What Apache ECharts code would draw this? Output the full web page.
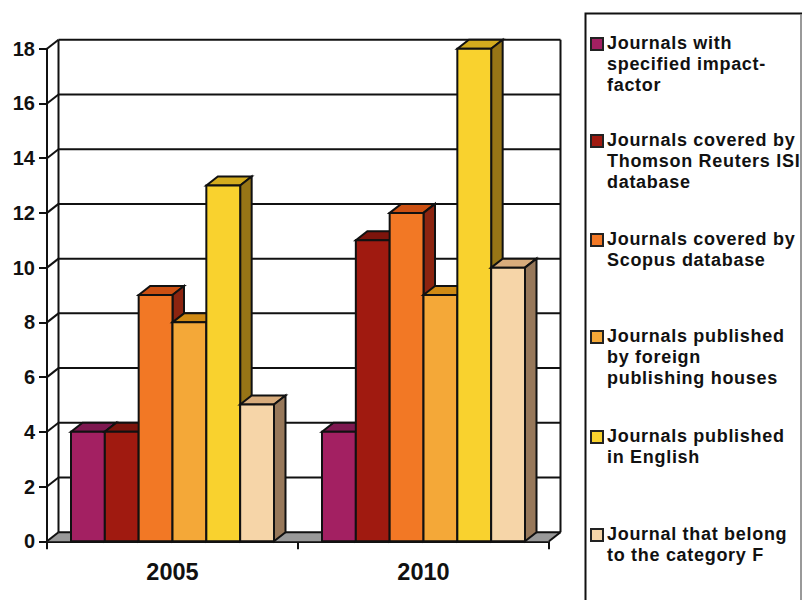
<!DOCTYPE html>
<html>
<head>
<meta charset="utf-8">
<style>
  html, body { margin: 0; padding: 0; background: #fff; }
  #chart { width: 802px; height: 600px; }
  /* Legend entries are tracked out; they are the only 18px text in the chart */
  #chart text[style*="18px"] { letter-spacing: 0.7px; }
</style>
<script src="https://cdn.jsdelivr.net/npm/echarts@6/dist/echarts.min.js"></script>
</head>
<body>
<div id="chart"></div>
<script>
// Journal counts per year, one list per journal group
const years = ['2005', '2010'];
const yTicks = [0, 2, 4, 6, 8, 10, 12, 14, 16, 18];
const impactFactor = [4, 4];
const thomsonReuters = [4, 11];
const scopus = [9, 12];
const foreignHouses = [8, 9];
const inEnglish = [13, 18];
const categoryF = [5, 10];

const groupNames = [
  'Journals with\nspecified impact-\nfactor',
  'Journals covered by\nThomson Reuters ISI\ndatabase',
  'Journals covered by\nScopus database',
  'Journals published\nby foreign\npublishing houses',
  'Journals published\nin English',
  'Journal that belong\nto the category F'
];
const groupValues = [impactFactor, thomsonReuters, scopus, foreignHouses, inEnglish, categoryF];
const frontColors = ['#A32062', '#A01A10', '#F27825', '#F4A838', '#F9D22E', '#F6D5A8'];
const topColors = ['#7E1850', '#7C140C', '#CC5012', '#D08A14', '#D4AC1E', '#D8AC7C'];
const sideColors = ['#66103C', '#660F08', '#8C2410', '#946410', '#977516', '#97785A'];
const legendTops = [31, 128, 227, 324, 424, 522];

// Oblique projection of the chart's depth, in pixels
const DEPTH_X = 11.5;
const DEPTH_Y = 9;
const INK = '#111';
const INK_WIDTH = 2;
const GROUP_PAD = 24;

const poly = (points, fill) => ({
  type: 'polygon',
  shape: { points },
  style: { fill, stroke: INK, lineWidth: INK_WIDTH, lineJoin: 'miter' }
});
const seg = (x1, y1, x2, y2) => ({
  type: 'line',
  shape: { x1, y1, x2, y2 },
  style: { stroke: INK, lineWidth: INK_WIDTH, fill: null }
});

// Floor, back wall grid lines and the diagonals joining them to the value axis
function renderWalls(params, api) {
  const value = api.value(0);
  const y = api.coord([0, value])[1];
  const cs = params.coordSys;
  const x0 = cs.x;
  const x1 = cs.x + cs.width;
  const children = [
    seg(x0, y, x0 + DEPTH_X, y - DEPTH_Y),
    seg(x0 + DEPTH_X, y - DEPTH_Y, x1 + DEPTH_X, y - DEPTH_Y)
  ];
  if (value === 0) {
    const topY = api.coord([0, yTicks[yTicks.length - 1]])[1] - DEPTH_Y;
    children.unshift(
      {
        type: 'polygon',
        shape: { points: [[x0, y], [x0 + DEPTH_X, y - DEPTH_Y], [x1 + DEPTH_X, y - DEPTH_Y], [x1, y]] },
        style: { fill: '#999999', stroke: null }
      },
      seg(x0 + DEPTH_X, y - DEPTH_Y, x0 + DEPTH_X, topY),
      seg(x1 + DEPTH_X, y - DEPTH_Y, x1 + DEPTH_X, topY),
      seg(x1, y, x1 + DEPTH_X, y - DEPTH_Y)
    );
  }
  return { type: 'group', children };
}

// One box: top and side faces first, then the front face
function makeBoxRenderer(seriesPos) {
  return function (params, api) {
    const cat = api.value(0);
    const base = api.coord([cat, 0]);
    const head = api.coord([cat, api.value(1)]);
    const slot = api.size([1, 0])[0];
    const width = (slot - 2 * GROUP_PAD) / groupNames.length;
    const left = base[0] - slot / 2 + GROUP_PAD + seriesPos * width;
    const right = left + width;
    const yTop = head[1];
    const yBase = base[1];
    return {
      type: 'group',
      children: [
        poly([[left, yTop], [left + DEPTH_X, yTop - DEPTH_Y], [right + DEPTH_X, yTop - DEPTH_Y], [right, yTop]], topColors[seriesPos]),
        poly([[right, yTop], [right + DEPTH_X, yTop - DEPTH_Y], [right + DEPTH_X, yBase - DEPTH_Y], [right, yBase]], sideColors[seriesPos]),
        poly([[left, yTop], [right, yTop], [right, yBase], [left, yBase]], frontColors[seriesPos])
      ]
    };
  };
}

const boxSeries = groupNames.map((name, i) => ({
  type: 'custom',
  name,
  renderItem: makeBoxRenderer(i),
  encode: { x: 0, y: 1 },
  itemStyle: { color: frontColors[i] },
  clip: false,
  data: groupValues[i].map((v, c) => [c, v])
}));

// The swatch path spans the full legend box so it lands on the first text line
const LEGEND_BOX = 64;
const swatchIcon = 'path://M0 0M0 6H12V18H0ZM0 ' + LEGEND_BOX;
const legends = groupNames.map((name, i) => ({
  data: [{ name, icon: swatchIcon }],
  left: 590,
  top: legendTops[i],
  itemWidth: 12,
  itemHeight: LEGEND_BOX,
  itemGap: 0,
  padding: 0,
  selectedMode: false,
  itemStyle: { borderColor: '#222', borderWidth: 2 },
  textStyle: {
    fontFamily: 'Liberation Sans',
    fontWeight: 'bold',
    fontSize: 18,
    lineHeight: 21.3,
    color: '#111',
    padding: [0, 0, 0, -1]
  },
  formatter: (n) => n + (n.split('\n').length < 3 ? '\n ' : '')
}));

const chart = echarts.init(document.getElementById('chart'), null, { renderer: 'svg' });
chart.setOption({
  animation: false,
  backgroundColor: '#fff',
  grid: { left: 47, top: 48.7, width: 502, height: 492.6 },
  legend: legends,
  graphic: [
    {
      type: 'rect',
      z: -1,
      shape: { x: 585.5, y: 13.5, width: 230, height: 600 },
      style: { fill: '#fff', stroke: INK, lineWidth: 2 }
    },
    {
      type: 'line',
      z: -1,
      shape: { x1: 801, y1: 14, x2: 801, y2: 600 },
      style: { stroke: '#777', lineWidth: 1.5 }
    }
  ],
  xAxis: {
    type: 'category',
    data: years,
    axisLine: { lineStyle: { color: INK, width: INK_WIDTH } },
    axisTick: { show: true, alignWithLabel: false, length: 8, lineStyle: { color: INK, width: INK_WIDTH } },
    axisLabel: {
      margin: 19,
      fontFamily: 'Liberation Sans',
      fontWeight: 'bold',
      fontSize: 23.5,
      color: '#111'
    }
  },
  yAxis: {
    type: 'value',
    min: 0,
    max: 18,
    interval: 2,
    splitLine: { show: false },
    axisLine: { show: true, lineStyle: { color: INK, width: INK_WIDTH } },
    axisTick: { show: true, length: 8, lineStyle: { color: INK, width: INK_WIDTH } },
    axisLabel: {
      margin: 12,
      padding: [2, 0, 0, 0],
      fontFamily: 'Liberation Sans',
      fontWeight: 'bold',
      fontSize: 20,
      color: '#111'
    }
  },
  series: [{
    type: 'custom',
    name: 'walls',
    renderItem: renderWalls,
    encode: { y: 0 },
    silent: true,
    clip: false,
    data: yTicks.map((t) => [t])
  }].concat(boxSeries)
});
</script>
</body>
</html>
